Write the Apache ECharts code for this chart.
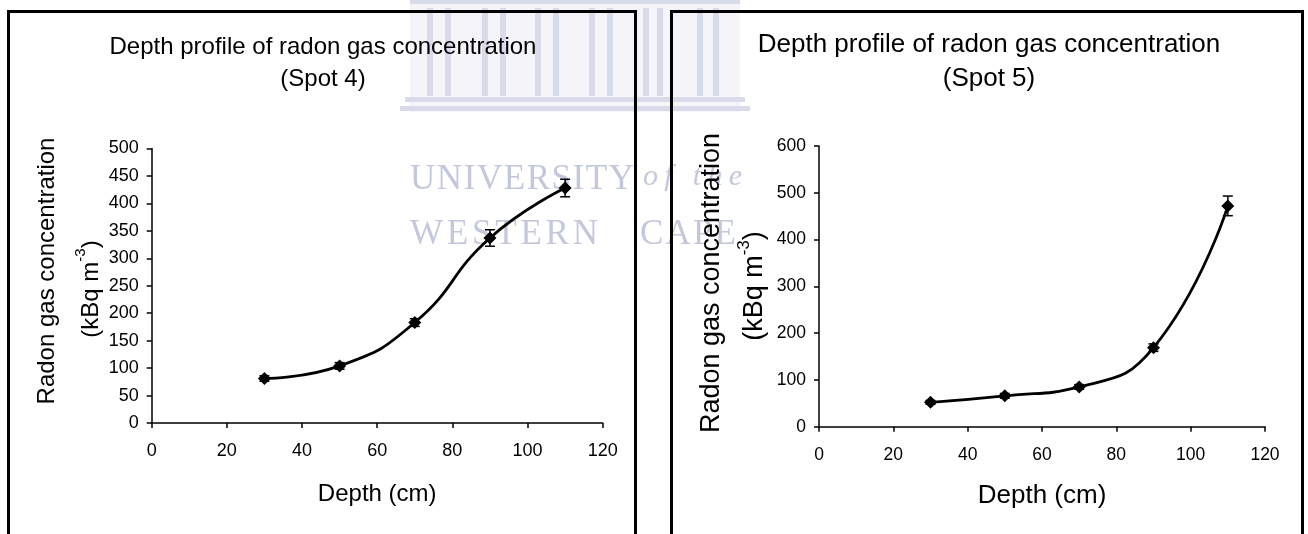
<!DOCTYPE html>
<html>
<head>
<meta charset="utf-8">
<script src="https://cdn.jsdelivr.net/npm/echarts@6/dist/echarts.min.js"></script>
<style>
html,body{margin:0;padding:0;background:#fff;}
#chart{width:1308px;height:534px;}
</style>
</head>
<body>
<div id="chart"></div>
<script>
// ---- data ----
var depths = [30, 50, 70, 90, 110];
var spot4Values = [81, 104, 183, 337, 428];
var spot4Errors = [5, 6, 7, 15, 16];
var spot5Values = [52, 66, 85, 169, 472];
var spot5Errors = [4, 5, 5, 8, 21];
var xTicks = [0, 20, 40, 60, 80, 100, 120];
var spot4YMax = 500, spot4YStep = 50;
var spot5YMax = 600, spot5YStep = 100;
var titleMain = 'Depth profile of radon gas concentration';
var spot4Label = '(Spot 4)';
var spot5Label = '(Spot 5)';
var xName = 'Depth (cm)';
var yName1 = 'Radon gas concentration';

var SANS = '"Liberation Sans", Arial, sans-serif';
var SERIF = '"Liberation Serif", "DejaVu Serif", serif';
var WM = '#c4c8dc';
var WM2 = '#d9dbea';

function pairs(xs, ys) { return xs.map(function (x, i) { return [x, ys[i]]; }); }
function errData(xs, ys, es) { return xs.map(function (x, i) { return [x, ys[i] - es[i], ys[i] + es[i]]; }); }

function errRender(params, api) {
  var x = api.value(0);
  var lo = api.coord([x, api.value(1)]);
  var hi = api.coord([x, api.value(2)]);
  var w = 5;
  var st = { stroke: '#000', lineWidth: 1.5 };
  return {
    type: 'group',
    children: [
      { type: 'line', shape: { x1: lo[0], y1: lo[1], x2: hi[0], y2: hi[1] }, style: st },
      { type: 'line', shape: { x1: lo[0] - w, y1: lo[1], x2: lo[0] + w, y2: lo[1] }, style: st },
      { type: 'line', shape: { x1: hi[0] - w, y1: hi[1], x2: hi[0] + w, y2: hi[1] }, style: st }
    ]
  };
}

// watermark letters, spread evenly across a span
var measureCtx = document.createElement('canvas').getContext('2d');
function spaced(text, x0, x1, baseline, font, color) {
  measureCtx.font = font;
  var widths = text.split('').map(function (c) { return measureCtx.measureText(c).width; });
  var total = widths.reduce(function (a, b) { return a + b; }, 0);
  var gap = text.length > 1 ? (x1 - x0 - total) / (text.length - 1) : 0;
  var out = [], cx = x0;
  text.split('').forEach(function (c, i) {
    out.push({ type: 'text', z: -5, silent: true, x: cx, y: baseline,
      style: { text: c, font: font, fill: color, align: 'left', verticalAlign: 'alphabetic' } });
    cx += widths[i] + gap;
  });
  return out;
}

var graphics = [];
// building watermark
graphics.push({ type: 'rect', z: -6, silent: true, shape: { x: 410, y: 0, width: 330, height: 112 }, style: { fill: '#f5f5f9' } });
graphics.push({ type: 'rect', z: -5, silent: true, shape: { x: 410, y: 0, width: 330, height: 4 }, style: { fill: WM2 } });
[430, 448, 485, 503, 538, 556, 592, 610, 646, 660, 700, 716].forEach(function (cx) {
  graphics.push({ type: 'rect', z: -5, silent: true, shape: { x: cx - 3, y: 8, width: 6, height: 88 }, style: { fill: WM2 } });
});
graphics.push({ type: 'rect', z: -5, silent: true, shape: { x: 405, y: 97, width: 340, height: 5 }, style: { fill: WM2 } });
graphics.push({ type: 'rect', z: -5, silent: true, shape: { x: 400, y: 106, width: 350, height: 5 }, style: { fill: WM2 } });
graphics = graphics.concat(spaced('UNIVERSITY', 410, 634, 162, '35px ' + SERIF, WM));
graphics = graphics.concat(spaced('of the', 643, 742, 162, 'italic 30px ' + SERIF, WM));
graphics = graphics.concat(spaced('WESTERN', 410, 598, 217, '35px ' + SERIF, WM));
graphics = graphics.concat(spaced('CAPE', 640, 736, 217, '35px ' + SERIF, WM));

// panel borders
graphics.push({ type: 'rect', z: 50, silent: true, shape: { x: 8.5, y: 11.5, width: 627, height: 560 }, style: { fill: 'none', stroke: '#000', lineWidth: 3 } });
graphics.push({ type: 'rect', z: 50, silent: true, shape: { x: 671.5, y: 11.5, width: 631, height: 560 }, style: { fill: 'none', stroke: '#000', lineWidth: 3 } });

// y-axis titles (rotated)
function yTitle(x1, y1, x2, y2, fs, supFs) {
  return [
    { type: 'text', z: 40, x: x1, y: y1, rotation: Math.PI / 2,
      style: { text: yName1, font: fs + 'px ' + SANS, fill: '#000', align: 'center', verticalAlign: 'middle' } },
    { type: 'text', z: 40, x: x2, y: y2, rotation: Math.PI / 2,
      style: { text: '{n|(kBq m}{s|-3}{n|)}', align: 'center', verticalAlign: 'middle', fill: '#000',
        rich: {
          n: { fontSize: fs, fontFamily: SANS, fill: '#000', verticalAlign: 'bottom', lineHeight: fs + 6 },
          s: { fontSize: supFs, fontFamily: SANS, fill: '#000', verticalAlign: 'top', lineHeight: fs + 6 }
        } } }
  ];
}
graphics = graphics.concat(yTitle(47, 271, 88, 289, 24, 15));
graphics = graphics.concat(yTitle(712, 283, 752, 286, 27, 17));

function xAxisCfg(gi, gap) {
  return {
    type: 'value', gridIndex: gi, min: xTicks[0], max: xTicks[xTicks.length - 1], interval: xTicks[1] - xTicks[0],
    name: xName, nameLocation: 'middle', nameGap: gap,
    nameTextStyle: { fontFamily: SANS, fontSize: gi === 0 ? 24 : 26, color: '#000' },
    axisLine: { show: true, onZero: false, lineStyle: { color: '#000', width: 1.5 } },
    axisTick: { show: true, inside: false, length: 5, lineStyle: { color: '#000', width: 1.5 } },
    axisLabel: { fontFamily: SANS, fontSize: gi === 0 ? 18 : 17.5, color: '#000', margin: 19 },
    splitLine: { show: false }
  };
}
function yAxisCfg(gi, max, step) {
  return {
    type: 'value', gridIndex: gi, min: 0, max: max, interval: step,
    axisLine: { show: true, lineStyle: { color: '#000', width: 1.5 } },
    axisTick: { show: true, inside: false, length: 5, lineStyle: { color: '#000', width: 1.5 } },
    axisLabel: { fontFamily: SANS, fontSize: gi === 0 ? 18 : 17.5, color: '#000', margin: 13 },
    splitLine: { show: false }
  };
}
function lineSeries(gi, vals) {
  return {
    type: 'line', xAxisIndex: gi, yAxisIndex: gi, data: pairs(depths, vals), smooth: 0.5,
    symbol: 'diamond', symbolSize: 13, z: 5,
    lineStyle: { color: '#000', width: 2.8 }, itemStyle: { color: '#000' }
  };
}
function errSeries(gi, vals, errs) {
  return {
    type: 'custom', xAxisIndex: gi, yAxisIndex: gi, data: errData(depths, vals, errs),
    renderItem: errRender, encode: { x: 0, y: [1, 2] }, z: 6
  };
}

var chart = echarts.init(document.getElementById('chart'), null, { renderer: 'canvas' });
chart.setOption({
  animation: false,
  backgroundColor: '#fff',
  title: [
    { text: titleMain + '\n' + spot4Label, left: 323, top: 31, textAlign: 'center', padding: 0,
      textStyle: { fontFamily: SANS, fontSize: 24, fontWeight: 'normal', color: '#000', lineHeight: 32 } },
    { text: titleMain + '\n' + spot5Label, left: 989, top: 28, textAlign: 'center', padding: 0,
      textStyle: { fontFamily: SANS, fontSize: 26, fontWeight: 'normal', color: '#000', lineHeight: 34 } }
  ],
  grid: [
    { left: 151.7, top: 148.5, width: 451, height: 274.5, containLabel: false },
    { left: 819, top: 146, width: 446, height: 280.7, containLabel: false }
  ],
  xAxis: [xAxisCfg(0, 59), xAxisCfg(1, 56)],
  yAxis: [yAxisCfg(0, spot4YMax, spot4YStep), yAxisCfg(1, spot5YMax, spot5YStep)],
  graphic: graphics,
  series: [
    lineSeries(0, spot4Values), errSeries(0, spot4Values, spot4Errors),
    lineSeries(1, spot5Values), errSeries(1, spot5Values, spot5Errors)
  ]
});
</script>
</body>
</html>
